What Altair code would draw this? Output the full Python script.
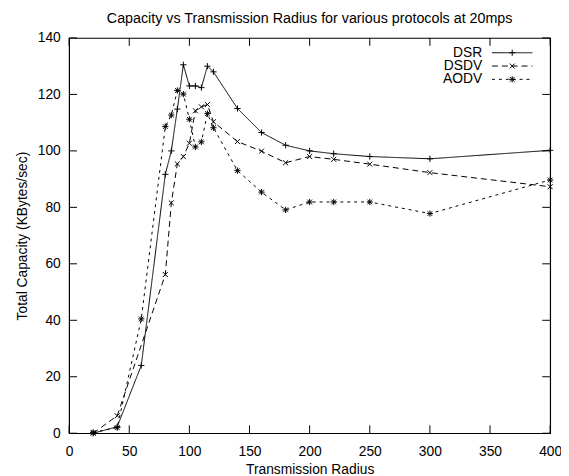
import altair as alt
import pandas as pd

# ---- data ----
protocols = ["DSR", "DSDV", "AODV"]

radius_dsr = [20, 40, 60, 80, 85, 90, 95, 100, 105, 110, 115, 120, 140, 160, 180, 200, 220, 250, 300, 400]
cap_dsr = [0, 2.3, 24, 91.7, 100, 114.8, 130.5, 123, 123, 122.4, 130, 128, 115, 106.5, 102, 100, 99, 98, 97.2, 100.2]

radius_dsdv = [20, 40, 80, 85, 90, 95, 100, 105, 110, 115, 120, 140, 160, 180, 200, 220, 250, 300, 400]
cap_dsdv = [0, 6.2, 56.2, 81.6, 95.4, 98, 102.7, 114.2, 115.6, 116.4, 110.3, 103.3, 99.9, 95.8, 98, 97, 95.3, 92.3, 87.3]

radius_aodv = [20, 40, 60, 80, 85, 90, 95, 100, 105, 110, 115, 120, 140, 160, 180, 200, 220, 250, 300, 400]
cap_aodv = [0.3, 2, 40.5, 108.6, 112.7, 121.4, 120.1, 111.2, 101.4, 103.2, 113.2, 108.2, 93, 85.4, 79.1, 81.9, 81.9, 81.9, 77.8, 89.7]

x_ticks = [0, 50, 100, 150, 200, 250, 300, 350, 400]
y_ticks = [0, 20, 40, 60, 80, 100, 120, 140]

# ---- layout ----
W, H = 488, 401
XMAX, YMAX = 400, 140
FONT = "Liberation Sans"
TICK = 8

rows = []
for name, xs, ys in [("DSR", radius_dsr, cap_dsr), ("DSDV", radius_dsdv, cap_dsdv), ("AODV", radius_aodv, cap_aodv)]:
    for a, b in zip(xs, ys):
        rows.append({"protocol": name, "radius": a, "capacity": b})
df = pd.DataFrame(rows)

dash_range = [[1, 0], [6, 4], [3, 4]]
shape_range = [
    "M-1,0L1,0M0,-1L0,1",
    "M-0.8,-0.8L0.8,0.8M-0.8,0.8L0.8,-0.8",
    "M-1,0L1,0M0,-1L0,1M-0.75,-0.75L0.75,0.75M-0.75,0.75L0.75,-0.75",
]

x_scale = alt.Scale(domain=[0, XMAX], nice=False, zero=False)
y_scale = alt.Scale(domain=[0, YMAX], nice=False, zero=False)
x_axis = alt.Axis(values=x_ticks, title="Transmission Radius", grid=False, ticks=False,
                  domain=False, labelFont=FONT, labelFontSize=14, labelColor="black",
                  labelPadding=12, titleFont=FONT, titleFontSize=14, titleFontWeight="normal",
                  titleColor="black", titlePadding=4, labelFlush=False)
y_axis = alt.Axis(values=y_ticks, title="Total Capacity (KBytes/sec)", grid=False, ticks=False,
                  domain=False, labelFont=FONT, labelFontSize=14, labelColor="black",
                  labelPadding=9, titleFont=FONT, titleFontSize=14, titleFontWeight="normal",
                  titleColor="black", titlePadding=8, labelFlush=False)
dash_enc = alt.StrokeDash("protocol:N", scale=alt.Scale(domain=protocols, range=dash_range), legend=None)
shape_enc = alt.Shape("protocol:N", scale=alt.Scale(domain=protocols, range=shape_range), legend=None)


def X(field):
    return alt.X(field, scale=x_scale, axis=x_axis)


def Y(field):
    return alt.Y(field, scale=y_scale, axis=y_axis)


lines = alt.Chart(df).mark_line(color="black", strokeWidth=1).encode(
    x=X("radius:Q"), y=Y("capacity:Q"), strokeDash=dash_enc, detail="protocol:N")

points = alt.Chart(df).mark_point(filled=False, color="black", strokeWidth=1, size=40, opacity=1).encode(
    x=X("radius:Q"), y=Y("capacity:Q"), shape=shape_enc)

# ---- inward ticks on all four sides ----
xt = pd.DataFrame({"v": x_ticks})
yt = pd.DataFrame({"v": y_ticks})
tick_bottom = alt.Chart(xt).mark_rule(color="black", strokeWidth=1).encode(
    x=X("v:Q"), y=alt.value(H), y2=alt.value(H - TICK))
tick_top = alt.Chart(xt).mark_rule(color="black", strokeWidth=1).encode(
    x=X("v:Q"), y=alt.value(0), y2=alt.value(TICK))
tick_left = alt.Chart(yt).mark_rule(color="black", strokeWidth=1).encode(
    y=Y("v:Q"), x=alt.value(0), x2=alt.value(TICK))
tick_right = alt.Chart(yt).mark_rule(color="black", strokeWidth=1).encode(
    y=Y("v:Q"), x=alt.value(W), x2=alt.value(W - TICK))

# ---- key (top right, inside plot) ----
def px_to_x(p):
    return p / W * XMAX


def px_to_y(p):
    return YMAX - p / H * YMAX


key = pd.DataFrame({
    "protocol": protocols,
    "y": [px_to_y(15 + 13.5 * i) for i in range(len(protocols))],
    "x1": [px_to_x(429)] * len(protocols),
    "x2": [px_to_x(470)] * len(protocols),
    "xm": [px_to_x(449.5)] * len(protocols),
    "xt": [px_to_x(419)] * len(protocols),
})
key_lines = alt.Chart(key).mark_rule(color="black", strokeWidth=1).encode(
    x=X("x1:Q"), x2="x2:Q", y=Y("y:Q"), strokeDash=dash_enc)
key_points = alt.Chart(key).mark_point(filled=False, color="black", strokeWidth=1, size=40, opacity=1).encode(
    x=X("xm:Q"), y=Y("y:Q"), shape=shape_enc)
key_text = alt.Chart(key).mark_text(align="right", baseline="middle", font=FONT, fontSize=14, color="black").encode(
    x=X("xt:Q"), y=Y("y:Q"), text="protocol:N")

chart = alt.layer(
    lines, points, tick_bottom, tick_top, tick_left, tick_right, key_lines, key_points, key_text
).properties(
    width=W, height=H,
    title=alt.TitleParams("Capacity vs Transmission Radius for various protocols at 20mps",
                          font=FONT, fontSize=14.5, fontWeight="normal", color="black",
                          anchor="middle", offset=5),
    padding={"left": 62, "top": 27, "right": 11, "bottom": 40},
    autosize=alt.AutoSizeParams(type="none"),
).configure_view(stroke="black", strokeWidth=1.2)

chart.save("out.html", embed_options={"renderer": "svg", "actions": False})
